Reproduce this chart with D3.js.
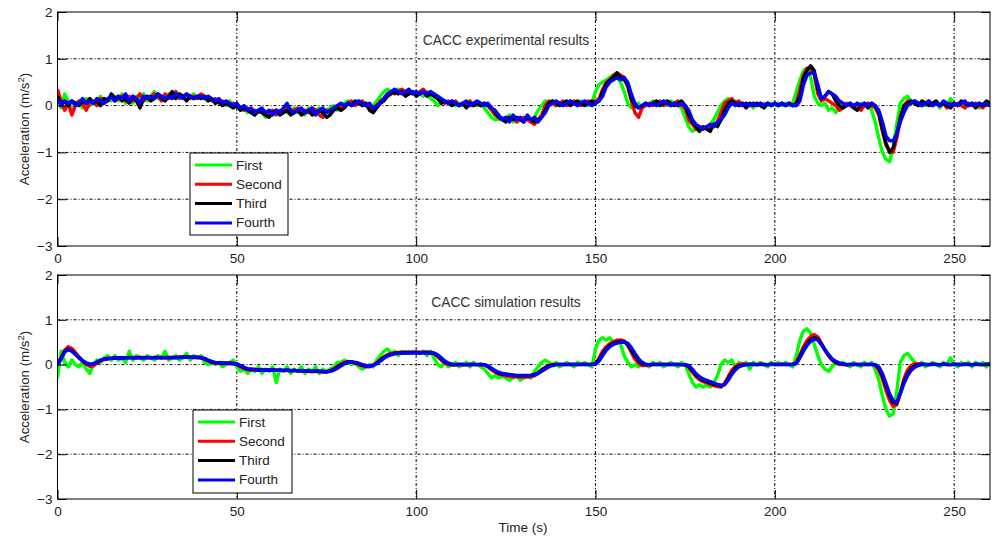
<!DOCTYPE html>
<html>
<head>
<meta charset="utf-8">
<script src="https://cdn.jsdelivr.net/npm/d3@7"></script>
<style>
  body { margin: 0; background: #fff; }
  svg { display: block; font-family: "Liberation Sans", Arial, sans-serif; }
  .grid line { stroke: #000; stroke-width: 1; stroke-dasharray: 3,2,1,2; }
</style>
</head>
<body>
<script>
// one sample per second, t = 0 .. 260 s
var seriesNames = ["First", "Second", "Third", "Fourth"];
var seriesColors = ["#00ff00", "#ff0000", "#000000", "#0000ff"];
var xTicks = [0, 50, 100, 150, 200, 250];
var yTicks = [-3, -2, -1, 0, 1, 2];

var expFirst = [
0.3,-0.05,0.25,0.1,-0.1,0.05,0.1,-0.05,0.15,0.0,0.05,0.1,0.2,0.05,0.15,0.1,0.2,0.1,0.25,0.05,
0.15,0.05,0.2,0.15,0.25,0.1,0.2,0.3,0.15,0.2,0.1,0.25,0.2,0.15,0.25,0.2,0.15,0.2,0.25,0.15,
0.2,0.15,0.1,0.15,0.05,0.1,0.05,0.0,0.1,-0.05,0.0,-0.1,-0.05,-0.15,-0.1,-0.2,-0.1,-0.15,-0.25,-0.1,
-0.2,-0.1,-0.15,-0.05,-0.15,-0.1,-0.05,-0.15,-0.1,-0.2,-0.05,-0.15,-0.1,-0.05,-0.2,-0.1,-0.05,0.0,-0.1,0.0,
0.05,0.1,0.0,0.05,0.1,0.0,0.05,-0.05,0.0,0.1,0.2,0.3,0.35,0.3,0.25,0.35,0.3,0.25,0.3,0.25,
0.3,0.25,0.2,0.3,0.15,0.1,0.0,0.05,0.1,0.05,0.1,0.0,0.05,0.0,0.05,0.0,0.05,0.0,0.05,-0.05,
-0.15,-0.25,-0.3,-0.3,-0.25,-0.3,-0.2,-0.35,-0.25,-0.3,-0.25,-0.3,-0.35,-0.25,-0.1,0.0,0.1,0.05,0.1,0.0,
0.05,0.0,0.05,0.1,0.05,0.0,0.1,0.05,0.0,0.05,0.3,0.45,0.5,0.55,0.6,0.65,0.6,0.5,0.3,0.05,
-0.05,0.0,0.05,-0.05,0.05,0.0,0.1,0.0,0.05,0.05,0.0,0.1,0.05,0.0,-0.05,-0.25,-0.45,-0.55,-0.5,-0.55,
-0.45,-0.5,-0.4,-0.3,-0.15,0.0,0.1,0.15,0.05,0.1,0.0,0.05,0.0,0.05,-0.05,0.05,0.0,0.05,0.0,0.05,
0.0,0.05,0.0,0.05,0.0,0.05,0.3,0.55,0.75,0.8,0.6,0.2,0.05,0.0,0.05,-0.1,-0.05,-0.15,0.0,0.05,
0.0,0.05,-0.05,0.0,0.05,0.0,0.05,-0.1,-0.35,-0.7,-1.0,-1.15,-1.2,-0.9,-0.4,0.05,0.15,0.2,0.1,0.05,
0.0,0.05,0.0,0.1,0.0,0.05,-0.05,0.05,0.0,0.15,0.05,0.0,0.05,-0.05,0.05,0.0,0.05,-0.05,0.05,0.0,0.05
];
var expSecond = [
0.35,0.1,-0.1,0.05,-0.2,0.0,0.1,0.05,-0.1,0.05,0.1,0.0,0.15,0.05,0.1,0.2,0.1,0.15,0.2,0.1,
0.2,0.1,0.15,0.25,0.1,0.2,0.15,0.25,0.2,0.1,0.25,0.15,0.2,0.3,0.15,0.2,0.25,0.15,0.2,0.15,
0.25,0.2,0.15,0.1,0.15,0.05,0.1,0.05,0.0,0.05,0.0,-0.05,-0.1,-0.05,-0.15,-0.1,-0.15,-0.1,-0.2,-0.15,
-0.1,-0.2,-0.1,-0.15,-0.05,-0.15,-0.1,-0.05,-0.15,-0.1,-0.15,-0.05,-0.1,-0.2,-0.25,-0.1,-0.15,-0.05,0.0,-0.05,
0.0,0.05,0.1,0.0,0.05,0.1,0.0,-0.05,-0.1,0.0,0.1,0.15,0.25,0.3,0.25,0.3,0.35,0.3,0.25,0.3,
0.25,0.3,0.35,0.25,0.3,0.25,0.15,0.1,0.05,0.1,0.05,0.1,0.0,0.05,0.0,0.1,0.0,0.05,0.0,0.05,
0.0,-0.1,-0.2,-0.25,-0.3,-0.25,-0.3,-0.25,-0.35,-0.3,-0.25,-0.3,-0.35,-0.4,-0.3,-0.2,0.0,0.1,0.05,0.0,
0.05,0.1,0.0,0.05,0.1,0.05,0.0,0.05,0.1,0.05,0.1,0.15,0.35,0.5,0.55,0.65,0.7,0.65,0.6,0.4,
0.1,-0.15,-0.25,-0.05,0.0,0.05,0.0,0.05,0.1,0.0,0.05,0.0,0.05,0.1,0.0,-0.05,-0.3,-0.4,-0.5,-0.45,
-0.5,-0.45,-0.5,-0.4,-0.35,-0.15,0.05,0.1,0.15,0.05,0.1,0.0,0.05,0.0,0.05,0.0,0.05,0.0,0.05,0.0,
0.05,0.0,0.05,0.0,0.05,0.0,0.05,0.35,0.65,0.8,0.8,0.65,0.25,0.1,0.15,0.1,0.05,0.0,-0.1,-0.05,
0.05,0.0,-0.05,0.05,-0.1,0.0,0.05,0.0,-0.05,-0.2,-0.55,-0.85,-0.95,-1.0,-0.7,-0.3,0.0,0.1,0.05,0.1,
0.05,0.0,0.05,0.1,0.0,0.05,0.0,0.05,-0.05,0.05,0.0,0.05,0.0,-0.05,0.05,0.0,0.05,0.0,-0.05,0.05,0.0
];
var expThird = [
0.2,0.05,0.1,0.0,0.1,0.05,0.0,0.1,0.05,0.15,0.05,0.1,0.0,0.15,0.1,0.25,0.15,0.2,0.1,0.15,
0.05,0.2,0.1,-0.05,0.15,0.2,0.1,0.15,0.25,0.15,0.1,0.2,0.3,0.15,0.25,0.2,0.1,0.2,0.15,0.2,
0.15,0.2,0.1,0.15,0.05,0.1,0.0,0.05,0.0,-0.05,0.0,-0.1,-0.05,-0.1,-0.15,-0.2,-0.1,-0.15,-0.2,-0.25,
-0.15,-0.1,-0.2,-0.15,-0.1,-0.2,-0.15,-0.1,-0.2,-0.15,-0.1,-0.2,-0.15,-0.1,-0.15,-0.25,-0.2,-0.1,-0.05,-0.1,
-0.05,0.05,0.0,0.1,0.05,0.0,0.05,-0.1,-0.15,-0.05,0.05,0.1,0.2,0.25,0.3,0.25,0.3,0.2,0.25,0.3,
0.2,0.25,0.3,0.2,0.25,0.2,0.15,0.05,0.1,0.05,0.0,0.05,0.0,0.05,-0.05,0.05,0.0,0.05,0.0,0.05,
0.0,-0.05,-0.15,-0.25,-0.3,-0.35,-0.25,-0.3,-0.25,-0.3,-0.35,-0.25,-0.3,-0.35,-0.3,-0.25,-0.1,0.05,0.1,0.05,
0.0,0.05,0.1,0.0,0.05,0.1,0.05,0.0,0.05,0.1,0.05,0.1,0.3,0.45,0.55,0.6,0.7,0.6,0.55,0.45,
0.15,0.0,-0.05,0.0,0.05,0.0,0.05,0.1,0.0,0.05,0.1,0.05,0.0,0.05,0.1,0.0,-0.2,-0.35,-0.45,-0.55,
-0.45,-0.5,-0.55,-0.4,-0.45,-0.3,-0.1,0.05,0.1,0.05,0.0,0.05,-0.05,0.05,0.0,0.05,0.0,-0.05,0.05,0.0,
0.05,0.0,0.05,0.0,0.05,0.0,0.05,0.2,0.6,0.75,0.85,0.75,0.35,0.15,0.2,0.3,0.25,0.1,0.0,-0.05,
0.0,0.05,-0.05,-0.1,0.0,0.05,-0.05,0.05,0.0,-0.15,-0.5,-0.8,-1.0,-0.9,-0.6,-0.25,0.0,0.05,0.1,0.05,
0.0,0.1,0.05,0.0,0.05,0.1,0.0,0.05,0.0,-0.05,0.05,0.0,0.1,0.05,0.0,0.05,-0.05,0.05,0.0,0.1,0.05
];
var expFourth = [
0.15,0.0,0.1,0.05,0.1,0.0,0.05,0.15,0.05,0.1,0.05,0.15,0.1,0.05,0.15,0.2,0.1,0.2,0.15,0.25,
0.1,0.2,0.15,0.05,0.2,0.15,0.2,0.15,0.25,0.2,0.15,0.2,0.15,0.25,0.2,0.15,0.25,0.2,0.15,0.2,
0.2,0.15,0.2,0.15,0.1,0.15,0.05,0.1,0.05,0.0,0.05,-0.05,0.0,-0.1,-0.05,-0.15,-0.1,-0.05,-0.15,-0.1,
-0.2,-0.1,-0.15,-0.05,0.05,-0.1,-0.15,-0.1,-0.05,-0.15,-0.1,-0.05,-0.2,-0.1,-0.05,-0.15,-0.1,-0.05,0.0,0.05,
0.0,0.05,0.0,0.05,0.1,0.05,0.0,0.05,-0.05,0.0,0.05,0.15,0.25,0.3,0.35,0.3,0.25,0.3,0.35,0.25,
0.3,0.25,0.3,0.25,0.3,0.25,0.2,0.15,0.1,0.05,0.1,0.05,0.0,0.05,0.1,0.0,0.05,0.1,0.05,0.0,
0.05,-0.05,-0.1,-0.2,-0.3,-0.25,-0.35,-0.2,-0.3,-0.25,-0.35,-0.2,-0.3,-0.25,-0.35,-0.25,-0.15,0.0,0.05,0.1,
0.05,0.0,0.05,0.1,0.05,0.0,0.05,0.1,0.05,0.0,0.05,0.1,0.2,0.4,0.5,0.55,0.6,0.55,0.6,0.5,
0.25,0.05,-0.05,0.0,0.05,0.0,0.05,0.0,0.05,0.1,0.05,0.0,0.05,0.0,0.05,0.0,-0.1,-0.3,-0.4,-0.45,
-0.5,-0.45,-0.4,-0.45,-0.35,-0.3,-0.2,-0.05,0.05,0.0,0.05,0.0,0.05,0.0,0.05,0.0,0.05,0.0,0.05,0.0,
0.05,0.0,0.05,0.0,0.05,0.0,0.0,0.1,0.45,0.65,0.7,0.7,0.45,0.15,0.2,0.3,0.25,0.2,0.1,0.05,
0.0,0.05,0.0,0.05,0.0,0.05,0.0,0.05,0.0,-0.1,-0.35,-0.65,-0.75,-0.75,-0.6,-0.35,-0.15,0.0,0.05,0.1,
0.05,0.0,0.05,0.1,0.0,0.05,0.0,0.1,0.05,0.0,0.05,0.0,0.05,0.1,0.0,0.05,0.0,0.05,0.0,0.05,0.0
];

var simFirst = [
-0.3,0.3,0.05,-0.05,0.1,0.0,-0.05,0.05,-0.1,-0.2,0.0,0.1,0.05,0.15,0.2,0.1,0.2,0.1,0.15,0.05,
0.3,0.1,0.2,0.15,0.1,0.2,0.15,0.1,0.2,0.15,0.3,0.1,0.15,0.2,0.1,0.15,0.25,0.1,0.2,0.15,
0.2,0.05,0.0,0.05,0.0,0.05,-0.05,0.0,0.05,0.1,-0.05,-0.15,-0.1,-0.2,-0.1,-0.15,-0.05,-0.2,-0.1,-0.15,
-0.05,-0.4,-0.1,-0.15,-0.05,-0.2,-0.1,-0.15,-0.05,-0.2,-0.1,-0.15,-0.05,-0.2,-0.1,-0.15,-0.1,-0.05,0.05,0.05,
0.1,0.05,0.0,0.05,-0.05,-0.1,-0.05,0.0,-0.05,0.1,0.2,0.3,0.35,0.25,0.3,0.2,0.3,0.25,0.3,0.25,
0.3,0.25,0.3,0.2,0.3,0.15,0.0,-0.05,0.05,-0.05,0.0,0.05,-0.05,0.0,0.05,-0.05,0.05,0.0,-0.05,-0.1,
-0.2,-0.3,-0.25,-0.3,-0.25,-0.3,-0.35,-0.3,-0.25,-0.35,-0.3,-0.25,-0.3,-0.15,-0.05,0.05,0.1,0.05,0.0,0.05,
-0.05,0.0,0.05,0.0,-0.05,0.05,0.0,0.05,0.0,-0.05,0.35,0.55,0.6,0.55,0.6,0.5,0.55,0.45,0.2,0.05,
-0.05,0.0,-0.05,0.05,0.0,-0.05,0.05,0.0,0.05,-0.05,0.0,0.05,0.0,-0.05,0.05,0.0,-0.2,-0.4,-0.5,-0.45,
-0.5,-0.45,-0.5,-0.4,-0.25,0.0,0.1,0.05,0.1,-0.05,0.05,0.0,0.05,-0.1,0.05,0.0,0.05,0.0,-0.05,0.05,
0.0,0.05,0.0,0.05,0.0,-0.05,0.2,0.55,0.75,0.8,0.7,0.45,0.2,0.0,-0.1,-0.15,-0.05,0.05,0.0,0.05,
0.0,-0.05,0.05,0.0,-0.05,0.05,0.0,0.05,-0.1,-0.35,-0.7,-1.0,-1.15,-1.1,-0.6,0.05,0.2,0.25,0.15,0.05,
0.0,0.05,-0.05,0.0,0.05,0.0,-0.05,0.05,0.0,0.15,0.0,-0.05,0.05,0.0,0.05,-0.05,0.05,0.0,0.05,-0.05,0.05
];
var simSecond = [
0.0,0.15,0.32,0.4,0.36,0.27,0.17,0.08,0.01,-0.04,-0.03,0.03,0.08,0.11,0.13,0.14,0.15,0.15,0.16,0.15,
0.16,0.15,0.16,0.16,0.15,0.16,0.15,0.16,0.16,0.15,0.16,0.16,0.15,0.16,0.17,0.16,0.17,0.16,0.16,0.17,
0.15,0.12,0.08,0.05,0.03,0.03,0.02,0.03,0.02,0.03,0.0,-0.05,-0.09,-0.11,-0.12,-0.12,-0.13,-0.12,-0.13,-0.12,
-0.13,-0.12,-0.13,-0.14,-0.13,-0.14,-0.13,-0.14,-0.15,-0.14,-0.15,-0.16,-0.15,-0.16,-0.16,-0.16,-0.14,-0.1,-0.04,0.01,
0.05,0.07,0.06,0.03,0.0,-0.03,-0.05,-0.05,-0.02,0.04,0.11,0.17,0.22,0.25,0.26,0.27,0.27,0.28,0.27,0.28,
0.27,0.28,0.27,0.28,0.27,0.25,0.18,0.1,0.03,0.0,-0.01,-0.01,0.0,-0.01,0.0,-0.01,0.0,0.0,-0.01,-0.01,
-0.05,-0.11,-0.17,-0.21,-0.23,-0.25,-0.26,-0.27,-0.27,-0.28,-0.27,-0.28,-0.27,-0.25,-0.19,-0.12,-0.06,-0.02,0.0,0.01,
0.0,0.0,0.01,0.0,0.0,0.01,0.0,0.0,0.01,0.0,0.02,0.15,0.3,0.4,0.47,0.51,0.54,0.55,0.53,0.42,
0.27,0.12,0.03,-0.02,-0.02,-0.01,0.0,0.0,0.01,0.0,0.0,0.01,0.0,0.0,0.0,-0.01,-0.06,-0.17,-0.27,-0.34,
-0.38,-0.41,-0.44,-0.47,-0.49,-0.5,-0.42,-0.27,-0.13,-0.04,0.0,0.02,0.01,0.0,0.01,0.0,0.01,0.0,0.0,0.01,
0.0,0.01,0.0,0.0,0.01,0.0,0.05,0.22,0.4,0.54,0.63,0.67,0.62,0.48,0.33,0.2,0.1,0.04,0.01,0.0,
-0.01,0.0,0.0,0.01,0.0,0.0,0.01,0.0,-0.01,-0.12,-0.32,-0.58,-0.8,-0.93,-0.9,-0.62,-0.32,-0.12,-0.02,0.02,
0.02,0.01,0.0,0.0,0.01,0.0,0.0,0.01,0.0,0.0,0.01,0.0,0.0,0.01,0.0,0.0,0.01,0.0,0.0,0.01,0.0
];
var simThird = [
0.0,0.14,0.3,0.35,0.31,0.23,0.15,0.08,0.03,0.0,0.01,0.05,0.1,0.12,0.14,0.14,0.15,0.15,0.15,0.15,
0.16,0.15,0.15,0.16,0.15,0.16,0.15,0.16,0.16,0.15,0.16,0.15,0.16,0.16,0.16,0.17,0.16,0.17,0.16,0.16,
0.15,0.13,0.09,0.06,0.04,0.04,0.03,0.03,0.03,0.02,0.01,-0.03,-0.07,-0.1,-0.11,-0.11,-0.12,-0.12,-0.12,-0.13,
-0.12,-0.13,-0.13,-0.13,-0.13,-0.14,-0.13,-0.14,-0.14,-0.14,-0.15,-0.15,-0.15,-0.15,-0.16,-0.16,-0.14,-0.11,-0.06,-0.01,
0.03,0.06,0.06,0.04,0.02,-0.01,-0.03,-0.03,-0.01,0.03,0.1,0.16,0.2,0.23,0.25,0.26,0.26,0.27,0.26,0.27,
0.27,0.26,0.27,0.27,0.26,0.25,0.2,0.12,0.06,0.02,0.0,0.0,0.01,0.0,0.0,0.01,0.0,0.0,0.01,0.0,
-0.04,-0.1,-0.15,-0.19,-0.21,-0.22,-0.23,-0.24,-0.25,-0.25,-0.25,-0.25,-0.24,-0.22,-0.18,-0.12,-0.07,-0.03,-0.01,0.0,
0.01,0.0,0.0,0.01,0.0,0.0,0.01,0.0,0.0,0.01,0.01,0.11,0.25,0.36,0.43,0.48,0.5,0.52,0.51,0.45,
0.32,0.19,0.08,0.02,0.0,0.0,0.01,0.0,0.0,0.01,0.0,0.0,0.01,0.0,0.0,0.0,-0.04,-0.13,-0.23,-0.3,
-0.35,-0.38,-0.41,-0.44,-0.46,-0.48,-0.44,-0.31,-0.18,-0.08,-0.03,-0.01,0.0,0.01,0.0,0.0,0.01,0.0,0.0,0.01,
0.0,0.0,0.01,0.0,0.0,0.01,0.03,0.18,0.34,0.47,0.56,0.6,0.57,0.45,0.32,0.2,0.11,0.05,0.02,0.01,
0.0,0.0,0.01,0.0,0.0,0.01,0.0,0.0,0.0,-0.08,-0.25,-0.48,-0.7,-0.85,-0.86,-0.64,-0.38,-0.2,-0.09,-0.03,
0.0,0.01,0.0,0.0,0.01,0.0,0.0,0.01,0.0,0.0,0.01,0.0,0.0,0.01,0.0,0.0,0.01,0.0,0.0,0.01,0.0
];
var simFourth = [
0.0,0.12,0.28,0.33,0.3,0.23,0.16,0.09,0.04,0.01,0.02,0.06,0.1,0.12,0.13,0.14,0.14,0.15,0.14,0.15,
0.15,0.16,0.15,0.15,0.16,0.15,0.16,0.15,0.15,0.16,0.15,0.16,0.16,0.15,0.16,0.16,0.17,0.16,0.17,0.16,
0.16,0.14,0.1,0.07,0.05,0.04,0.04,0.03,0.03,0.03,0.02,-0.02,-0.06,-0.09,-0.1,-0.11,-0.12,-0.11,-0.12,-0.12,
-0.12,-0.13,-0.12,-0.13,-0.12,-0.13,-0.13,-0.14,-0.13,-0.14,-0.14,-0.15,-0.14,-0.15,-0.15,-0.16,-0.15,-0.13,-0.08,-0.03,
0.02,0.05,0.06,0.05,0.03,0.0,-0.02,-0.03,-0.02,0.02,0.08,0.14,0.19,0.22,0.24,0.25,0.26,0.26,0.26,0.27,
0.26,0.26,0.27,0.26,0.27,0.26,0.22,0.15,0.08,0.03,0.01,0.0,0.0,0.01,0.0,0.0,0.01,0.0,0.0,0.0,
-0.03,-0.08,-0.13,-0.17,-0.2,-0.21,-0.22,-0.23,-0.24,-0.24,-0.24,-0.24,-0.24,-0.23,-0.2,-0.15,-0.1,-0.05,-0.02,0.0,
0.0,0.01,0.0,0.0,0.01,0.0,0.0,0.01,0.0,0.0,0.01,0.08,0.2,0.32,0.4,0.45,0.48,0.5,0.5,0.48,
0.38,0.25,0.13,0.05,0.01,0.0,0.0,0.01,0.0,0.0,0.01,0.0,0.0,0.01,0.0,0.0,-0.02,-0.1,-0.2,-0.27,
-0.32,-0.35,-0.38,-0.41,-0.44,-0.46,-0.45,-0.35,-0.22,-0.12,-0.05,-0.02,0.0,0.0,0.01,0.0,0.0,0.01,0.0,0.0,
0.01,0.0,0.0,0.01,0.0,0.0,0.02,0.15,0.3,0.43,0.52,0.57,0.55,0.45,0.33,0.22,0.13,0.07,0.04,0.02,
0.0,0.01,0.0,0.0,0.01,0.0,0.0,0.01,0.0,-0.05,-0.2,-0.42,-0.65,-0.8,-0.85,-0.65,-0.42,-0.25,-0.13,-0.06,
-0.02,0.0,0.01,0.0,0.0,0.01,0.0,0.0,0.01,0.0,0.0,0.01,0.0,0.0,0.01,0.0,0.0,0.01,0.0,0.0,0.01
];

var W = 997, H = 537;
var svg = d3.select("body").append("svg").attr("width", W).attr("height", H);

var x = d3.scaleLinear().domain([0, 260]).range([57.5, 990]);

function drawPanel(top, bottom, series, title, titleY, legendBox, clipId, lineW, showXLabel) {
	var y = d3.scaleLinear().domain([-3, 2]).range([bottom, top]);
	var g = svg.append("g");

	g.append("clipPath").attr("id", clipId).append("rect")
		.attr("x", x(0)).attr("y", top).attr("width", x(260) - x(0)).attr("height", bottom - top);

	// dotted grid
	var grid = g.append("g").attr("class", "grid");
	grid.selectAll(".gx").data(xTicks.filter(function(d){ return d > 0; })).enter().append("line")
		.attr("x1", function(d){ return x(d); }).attr("x2", function(d){ return x(d); })
		.attr("y1", top).attr("y2", bottom);
	grid.selectAll(".gy").data(yTicks.filter(function(d){ return d > -3 && d < 2; })).enter().append("line")
		.attr("x1", x(0)).attr("x2", x(260))
		.attr("y1", function(d){ return y(d); }).attr("y2", function(d){ return y(d); });

	// series
	var line = d3.line().x(function(d, i){ return x(i); }).y(function(d){ return y(d); });
	g.append("g").attr("clip-path", "url(#" + clipId + ")")
		.selectAll("path").data(series).enter().append("path")
		.attr("d", line)
		.attr("fill", "none")
		.attr("stroke", function(d, i){ return seriesColors[i]; })
		.attr("stroke-width", lineW)
		.attr("stroke-linejoin", "round");

	// axes with inward ticks
	g.append("g").attr("transform", "translate(0," + bottom + ")")
		.call(d3.axisBottom(x).tickValues(xTicks).tickSize(-9).tickPadding(7));
	g.append("g").attr("transform", "translate(0," + top + ")")
		.call(d3.axisTop(x).tickValues(xTicks).tickSize(-9).tickFormat(""));
	g.append("g").attr("transform", "translate(" + x(0) + ",0)")
		.call(d3.axisLeft(y).tickValues(yTicks).tickSize(-9).tickPadding(5).tickFormat(function(d){ return d < 0 ? "\u2212" + (-d) : d; }));
	g.append("g").attr("transform", "translate(" + x(260) + ",0)")
		.call(d3.axisRight(y).tickValues(yTicks).tickSize(-9).tickFormat(""));
	g.selectAll(".domain").remove();
	g.selectAll(".tick line").attr("stroke", "#000");
	g.selectAll(".tick text").attr("font-size", 13.5).attr("fill", "#222")
		.attr("font-family", "'Liberation Sans', Arial, sans-serif");

	g.append("rect").attr("x", x(0)).attr("y", top)
		.attr("width", x(260) - x(0)).attr("height", bottom - top)
		.attr("fill", "none").attr("stroke", "#000").attr("stroke-width", 1);

	g.append("text").attr("x", 506).attr("y", titleY).attr("text-anchor", "middle")
		.attr("font-size", 13.8).attr("fill", "#333").text(title);

	var yl = g.append("text")
		.attr("transform", "translate(29," + ((top + bottom) / 2) + ") rotate(-90)")
		.attr("text-anchor", "middle").attr("font-size", 13.3).attr("fill", "#222");
	yl.append("tspan").text("Acceleration (m/s");
	yl.append("tspan").attr("font-size", 9.5).attr("dy", -5).text("2");
	yl.append("tspan").attr("dy", 5).text(")");

	// legend
	var lg = g.append("g");
	lg.append("rect").attr("x", legendBox[0]).attr("y", legendBox[1])
		.attr("width", legendBox[2]).attr("height", legendBox[3])
		.attr("fill", "#fff").attr("stroke", "#000").attr("stroke-width", 1);
	var rows = lg.selectAll(".row").data(seriesNames).enter().append("g")
		.attr("transform", function(d, i){ return "translate(" + legendBox[0] + "," + (legendBox[1] + 12 + i * 19.3) + ")"; });
	rows.append("line").attr("x1", 5).attr("x2", 42).attr("y1", 0).attr("y2", 0)
		.attr("stroke", function(d, i){ return seriesColors[i]; }).attr("stroke-width", 3);
	rows.append("text").attr("x", 46).attr("y", 4.5).attr("font-size", 13.5).attr("fill", "#222")
		.text(function(d){ return d; });

	if (showXLabel) {
		g.append("text").attr("x", 523).attr("y", 532).attr("text-anchor", "middle")
			.attr("font-size", 13.5).attr("fill", "#222").text("Time (s)");
	}
}

drawPanel(12, 246, [expFirst, expSecond, expThird, expFourth], "CACC experimental results", 45,
	[190, 153, 98, 82], "clipTop", 3.4, false);
drawPanel(275, 499, [simFirst, simSecond, simThird, simFourth], "CACC simulation results", 307,
	[193, 410, 99, 83], "clipBottom", 3.4, true);
</script>
</body>
</html>
